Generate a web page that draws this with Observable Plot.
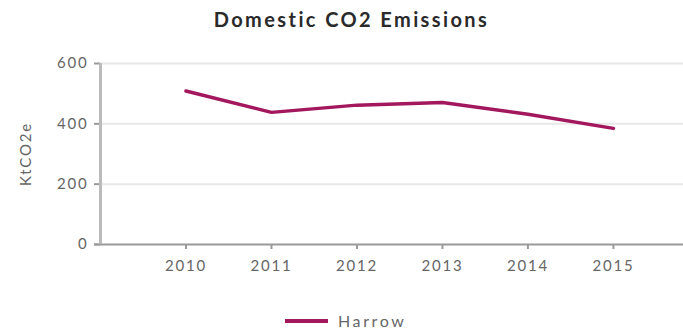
<!DOCTYPE html>
<html>
<head>
<meta charset="utf-8">
<script src="https://cdn.jsdelivr.net/npm/d3@7"></script>
<script src="https://cdn.jsdelivr.net/npm/@observablehq/plot@0.6"></script>
<style>
  body { margin: 0; background: #fff; font-family: Lato, "Open Sans", sans-serif; }
  #wrap { width: 683px; height: 333px; position: relative; }
  #title { height: 40px; line-height: 38px; text-align: center; font-weight: bold; font-size: 20px; letter-spacing: 2.4px; color: #2a2a2a; padding-left: 20px; }
  #legend { position: absolute; top: 311px; left: 285px; font-size: 16px; letter-spacing: 2.6px; color: #666; display: flex; align-items: center; }
  #legend .sw { width: 43px; height: 4px; background: #a3175d; margin-right: 10px; }
</style>
</head>
<body>
<div id="wrap">
  <div id="title">Domestic CO2 Emissions</div>
  <div id="chart"></div>
  <div id="legend"><span class="sw"></span><span>Harrow</span></div>
</div>
<script>
const years = [2010, 2011, 2012, 2013, 2014, 2015];
const harrow = [509, 438, 462, 471, 432, 385];
const yTicks = [0, 200, 400, 600];
const seriesName = "Harrow";
const yLabel = "KtCO2e";

const data = years.map((y, i) => ({year: y, value: harrow[i], series: seriesName}));

const chart = Plot.plot({
  width: 683,
  height: 260,
  marginLeft: 100,
  marginRight: 0,
  marginTop: 23,
  marginBottom: 56,
  style: {fontFamily: "Lato, 'Open Sans', sans-serif", fontSize: "15px", color: "#666", letterSpacing: "1.8px"},
  x: {domain: [2009, 2015.82]},
  y: {domain: [0, 600]},
  marks: [
    Plot.gridY(yTicks.filter(d => d > 0), {stroke: "#e8e8e8", strokeOpacity: 1, strokeWidth: 2}),
    Plot.axisY(yTicks, {tickSize: 6, tickPadding: 6, stroke: "#999", strokeWidth: 2, fontSize: 15,
      label: yLabel, labelAnchor: "center", labelArrow: "none", labelOffset: 80}),
    Plot.axisX(years, {tickSize: 5, tickPadding: 11, stroke: "#999", strokeWidth: 2, tickFormat: d => String(d), label: null, fontSize: 15}),
    Plot.ruleY([0], {stroke: "#999", strokeWidth: 2, x1: 2009 - 0.07, x2: 2015.82}),
    Plot.ruleX([2009], {stroke: "#bbb", strokeWidth: 3, y1: 0, y2: 600}),
    Plot.line(data, {x: "year", y: "value", stroke: "#a3175d", strokeWidth: 3.5})
  ]
});
document.getElementById("chart").appendChild(chart);
</script>
</body>
</html>
